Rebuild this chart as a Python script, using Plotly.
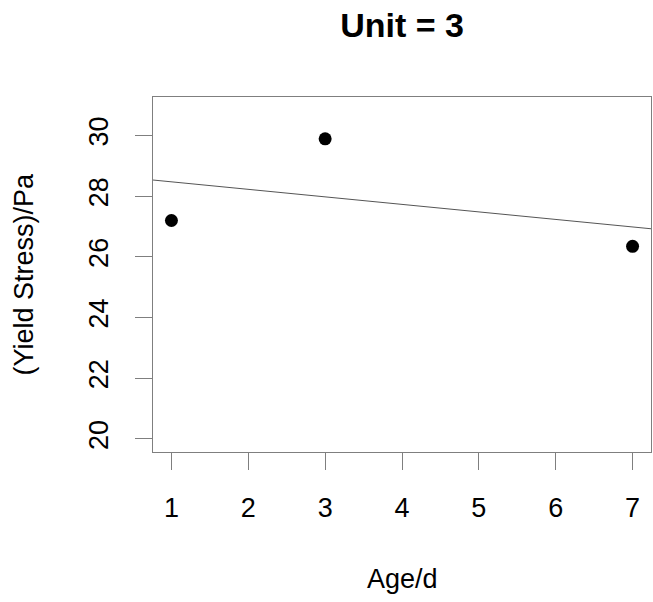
import numpy as np
import plotly.graph_objects as go

age = [1, 3, 7]
yield_stress = [27.2, 29.89, 26.35]
x_ticks = [1, 2, 3, 4, 5, 6, 7]
y_ticks = [20, 22, 24, 26, 28, 30]
x_range = [0.76, 7.24]
y_range = [19.57, 31.27]

slope, intercept = np.polyfit(age, yield_stress, 1)
fit_x = np.array(x_range)
fit_y = slope * fit_x + intercept

FONT = "Liberation Sans, Arial, sans-serif"
AX = "#7f7f7f"

fig = go.Figure()
fig.add_trace(go.Scatter(x=fit_x, y=fit_y, mode="lines",
                         line=dict(color="#555555", width=1), showlegend=False))
fig.add_trace(go.Scatter(x=age, y=yield_stress, mode="markers",
                         marker=dict(color="black", size=13), showlegend=False))

fig.update_layout(
    width=653, height=602,
    margin=dict(l=153, r=2, t=97, b=150),
    paper_bgcolor="white", plot_bgcolor="white",
    font=dict(family=FONT, color="black", size=27),
    title=dict(text="<b>Unit = 3</b>", x=0.5, xref="paper", y=1 - 25 / 602,
               yref="container", xanchor="center", yanchor="middle",
               font=dict(family=FONT, size=34, color="black")),
    xaxis=dict(range=x_range, tickvals=x_ticks, ticks="outside", ticklen=17,
               tickcolor=AX, linecolor=AX, showline=True, mirror=True,
               showgrid=False, zeroline=False, ticklabelstandoff=15,
               tickfont=dict(size=27)),
    yaxis=dict(range=y_range, tickvals=y_ticks, ticks="outside", ticklen=17,
               tickcolor=AX, linecolor=AX, showline=True, mirror=True,
               showgrid=False, zeroline=False, tickangle=-90,
               ticklabelstandoff=16, tickfont=dict(size=27)),
    annotations=[
        dict(text="Age/d", xref="paper", yref="paper", x=0.5,
             y=(452 - 579) / 355, xanchor="center", yanchor="middle",
             showarrow=False, font=dict(size=27)),
        dict(text="(Yield Stress)/Pa", xref="paper", yref="paper",
             x=(23 - 153) / 498, y=0.5, xanchor="center", yanchor="middle",
             textangle=-90, showarrow=False, font=dict(size=27)),
    ],
)

fig.write_html("out.html",
               config={"displayModeBar": False},
               post_script="document.body.style.margin='0';"
                           "document.body.style.overflow='hidden';")
